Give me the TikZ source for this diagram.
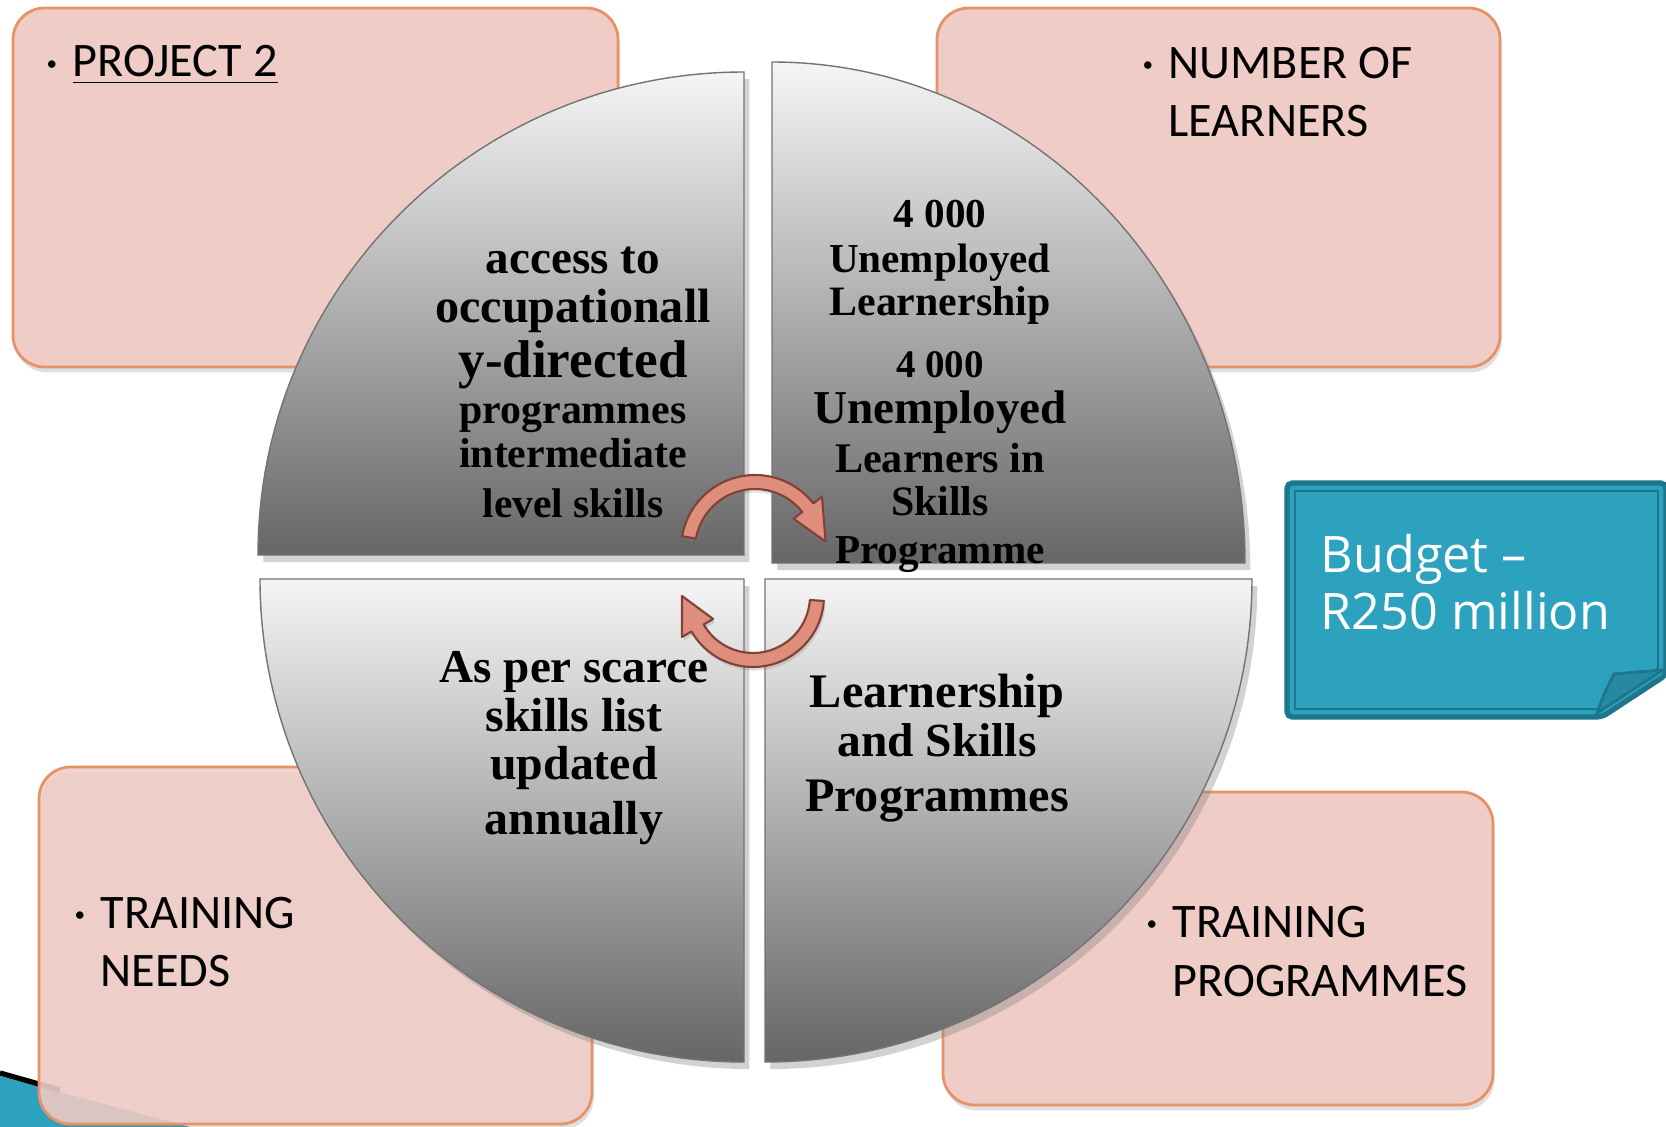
\documentclass[tikz,border=0pt]{standalone}
\usepackage{fontspec}
\setmainfont{Liberation Serif}
\newfontfamily\boxfont{Carlito}
\newfontfamily\tagfont{Open Sans}
\usetikzlibrary{shadows}

\definecolor{boxpink}{RGB}{240,204,198}
\definecolor{boxedge}{RGB}{231,146,104}
\definecolor{tagteal}{RGB}{44,162,190}
\definecolor{tagedge}{RGB}{30,118,138}
\definecolor{cyclefill}{RGB}{224,142,124}
\definecolor{cycleedge}{RGB}{128,66,56}

\newcommand{\qsize}[1]{\fontsize{#1}{#1}\selectfont}
\newcommand{\dotmark}{\makebox[7.4pt][l]{\raisebox{1.8pt}{\fontsize{6}{6}\selectfont •}}}

\tikzset{
  pinkbox/.style={draw=boxedge, line width=0.8pt, fill=boxpink, rounded corners=9pt,
    drop shadow={opacity=0.25, shadow xshift=0.5pt, shadow yshift=-1.5pt}},
  quadrant/.style={draw=black!55, line width=0.4pt, top color=black!4, bottom color=black!60,
    drop shadow={opacity=0.35, shadow xshift=1.5pt, shadow yshift=-2pt}},
  quadtext/.style={font=\bfseries, anchor=base, inner sep=0pt},
  boxtext/.style={font=\boxfont\fontsize{13.7}{16}\selectfont, anchor=base west, inner sep=0pt},
  tagbox/.style={fill=tagteal, draw=tagedge, line width=1.5pt, rounded corners=1.5pt},
  tagtext/.style={font=\tagfont\fontsize{14.3}{17}\selectfont, text=white, anchor=base west, inner sep=0pt},
  cyclearrow/.style={fill=cyclefill, draw=cycleedge, line width=0.6pt, line join=round,
    drop shadow={opacity=0.25, shadow xshift=0.5pt, shadow yshift=-1pt}}
}

\begin{document}
\begin{tikzpicture}[x=0.01cm, y=-0.01cm]
  \useasboundingbox[fill=white] (0,0) rectangle (1666,1127);

  % corner decoration
  \fill[tagteal] (0,1076) -- (190,1127) -- (0,1127) -- cycle;
  \draw[line width=1.5pt] (0,1073) -- (60,1090);

  % pink boxes
  \draw[pinkbox] (13,8) rectangle (618,367);
  \draw[pinkbox] (937,8) rectangle (1500,367);
  \draw[pinkbox, fill opacity=0.88] (39,767) rectangle (592,1124);
  \draw[pinkbox] (943,792) rectangle (1493,1105);

  \node[boxtext] (proj1) at (46,77) {\dotmark\underline{PROJECT 2}};
  \node[boxtext] (num1) at (1142,78) {\dotmark NUMBER OF};
  \node[boxtext] (num2) at (1168,136) {LEARNERS};
  \node[boxtext] (need1) at (74,928) {\dotmark TRAINING};
  \node[boxtext] (need2) at (100,986) {NEEDS};
  \node[boxtext] (prog1) at (1146,937) {\dotmark TRAINING};
  \node[boxtext] (prog2) at (1172,996) {PROGRAMMES};

  % budget note
  \draw[tagbox] (1287,483) -- (1666,483) -- (1666,675) -- (1602,717) -- (1287,717) -- cycle;
  \draw[tagedge, line width=0.45pt] (1295,491) -- (1658,491) -- (1658,668) -- (1598,709) -- (1295,709) -- cycle;
  \filldraw[fill=tagteal!85!black, draw=tagedge, line width=0.8pt]
    (1597,713) .. controls (1604,694) .. (1614,674) .. controls (1636,672) .. (1663,670) -- cycle;
  \node[tagtext] (budget1) at (1320,572) {Budget –};
  \node[tagtext] (budget2) at (1320,629) {R250 million};

  % four quarters
  \path[quadrant] (744,555) -- (258,555) arc[start angle=180, end angle=270, x radius=486, y radius=483] -- cycle;
  \path[quadrant] (772,563) -- (772,62) arc[start angle=270, end angle=360, x radius=473, y radius=501] -- cycle;
  \path[quadrant] (744,579) -- (260,579) arc[start angle=180, end angle=90, x radius=484, y radius=483] -- cycle;
  \path[quadrant] (765,579) -- (1252,579) arc[start angle=0, end angle=90, x radius=487, y radius=483] -- cycle;

  % cycle arrows
  \coordinate (topc) at (755,549);
  \coordinate (botc) at (753,596);
  \draw[cyclearrow] ([shift={(-170:74)}]topc) arc[start angle=-170, end angle=-38, radius=74]
    -- ([shift={(-38:85)}]topc) -- ([shift={(-6:71)}]topc) -- ([shift={(-38:49)}]topc)
    -- ([shift={(-38:60)}]topc) arc[start angle=-38, end angle=-170, radius=60] -- cycle;
  \draw[cyclearrow] ([shift={(4:71)}]botc) arc[start angle=4, end angle=150, radius=71]
    -- ([shift={(150:82)}]botc) -- ([shift={(180:71)}]botc) -- ([shift={(150:46)}]botc)
    -- ([shift={(150:57)}]botc) arc[start angle=150, end angle=4, radius=57] -- cycle;

  % quarter texts
  \foreach \yy/\sz/\txt [count=\i] in {273/13.4/access to, 322/13.7/occupationall,
      377/15.1/y-directed, 423/11.9/programmes, 467/11.9/intermediate, 517/11.8/level skills}
    \node[quadtext] (acc\i) at (573,\yy) {\qsize{\sz}\txt};
  \foreach \yy/\sz/\txt [count=\i] in {227/11.7/4 000, 272/11.7/Unemployed, 315/11.9/Learnership,
      377/11.1/4 000, 423/13.4/Unemployed, 472/12.0/Learners in, 515/11.9/Skills, 563/11.7/Programme}
    \node[quadtext] (num\i) at (940,\yy) {\qsize{\sz}\txt};
  \foreach \yy/\sz/\txt [count=\i] in {682/13.4/As per scarce, 731/13.6/skills list,
      779/13.6/updated, 834/13.6/annually}
    \node[quadtext] (scarce\i) at (574,\yy) {\qsize{\sz}\txt};
  \foreach \yy/\sz/\txt [count=\i] in {707/13.7/Learnership, 756/13.5/and Skills, 811/13.7/Programmes}
    \node[quadtext] (lsp\i) at (937,\yy) {\qsize{\sz}\txt};
\end{tikzpicture}
\end{document}
